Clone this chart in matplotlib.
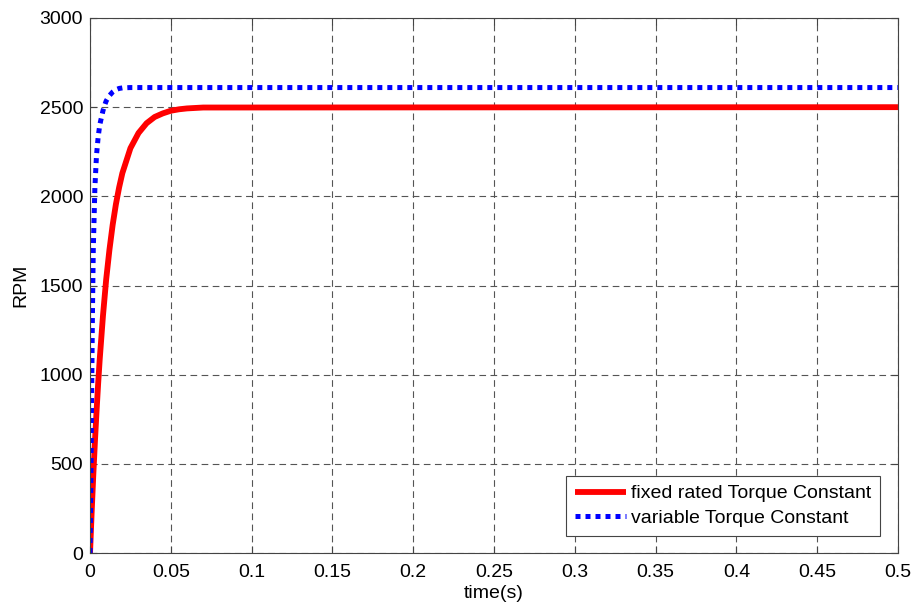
import numpy as np
import matplotlib.pyplot as plt

# 读取自图中的数据点
t_fixed = [0, 0.001, 0.002, 0.003, 0.004, 0.005, 0.006, 0.008, 0.010, 0.012, 0.014,
           0.016, 0.018, 0.020, 0.025, 0.030, 0.035, 0.040, 0.045, 0.050, 0.055,
           0.060, 0.070, 0.5]
rpm_fixed = [0, 227, 434, 620, 790, 947, 1087, 1330, 1535, 1700, 1840,
             1955, 2050, 2130, 2270, 2355, 2410, 2445, 2465, 2480, 2488,
             2493, 2498, 2500]

t_var = [0, 0.0005, 0.001, 0.0015, 0.002, 0.003, 0.004, 0.005, 0.006, 0.007, 0.008,
         0.009, 0.010, 0.012, 0.014, 0.016, 0.018, 0.020, 0.025, 0.5]
rpm_var = [0, 400, 900, 1350, 1700, 2050, 2230, 2330, 2400, 2440, 2480,
           2510, 2535, 2565, 2585, 2598, 2605, 2608, 2610, 2610]

plt.rcParams['font.family'] = ['Liberation Sans', 'DejaVu Sans']

fig = plt.figure(figsize=(9.15, 6.1), dpi=100)
ax = fig.add_axes([0.0984, 0.0934, 0.883, 0.8771])

ax.plot(t_fixed, rpm_fixed, color='red', linewidth=4.2, solid_capstyle='butt',
        label='fixed rated Torque Constant')
ax.plot(t_var, rpm_var, color='blue', linewidth=3.6, linestyle=(0, (1, 1)),
        dash_capstyle='butt', label='variable Torque Constant')

ax.set_xlim(0, 0.5)
ax.set_ylim(0, 3000)
ax.set_xticks(np.arange(0, 0.51, 0.05))
ax.set_xticklabels(['0', '0.05', '0.1', '0.15', '0.2', '0.25', '0.3', '0.35', '0.4', '0.45', '0.5'])
ax.set_yticks(np.arange(0, 3001, 500))

# 网格线和刻度
ax.grid(True, color='#555555', linestyle=(0, (6, 4)), linewidth=0.8)
ax.tick_params(direction='in', top=True, right=True, labelsize=14, length=5,
               color='#444444')
ax.tick_params(axis='x', pad=8)
ax.tick_params(axis='y', pad=5)
for s in ax.spines.values():
    s.set_color('#444444')
    s.set_linewidth(0.8)

ax.set_xlabel('time(s)', fontsize=14, labelpad=3)
ax.set_ylabel('RPM', fontsize=14, labelpad=7)

leg = ax.legend(loc='lower right', fontsize=14, fancybox=False, framealpha=1,
                edgecolor='#444444', handlelength=2.6, handletextpad=0.3,
                borderaxespad=0.9, labelspacing=0.35, borderpad=0.45)
leg.get_frame().set_linewidth(0.8)

plt.savefig('out.png', dpi=100)
